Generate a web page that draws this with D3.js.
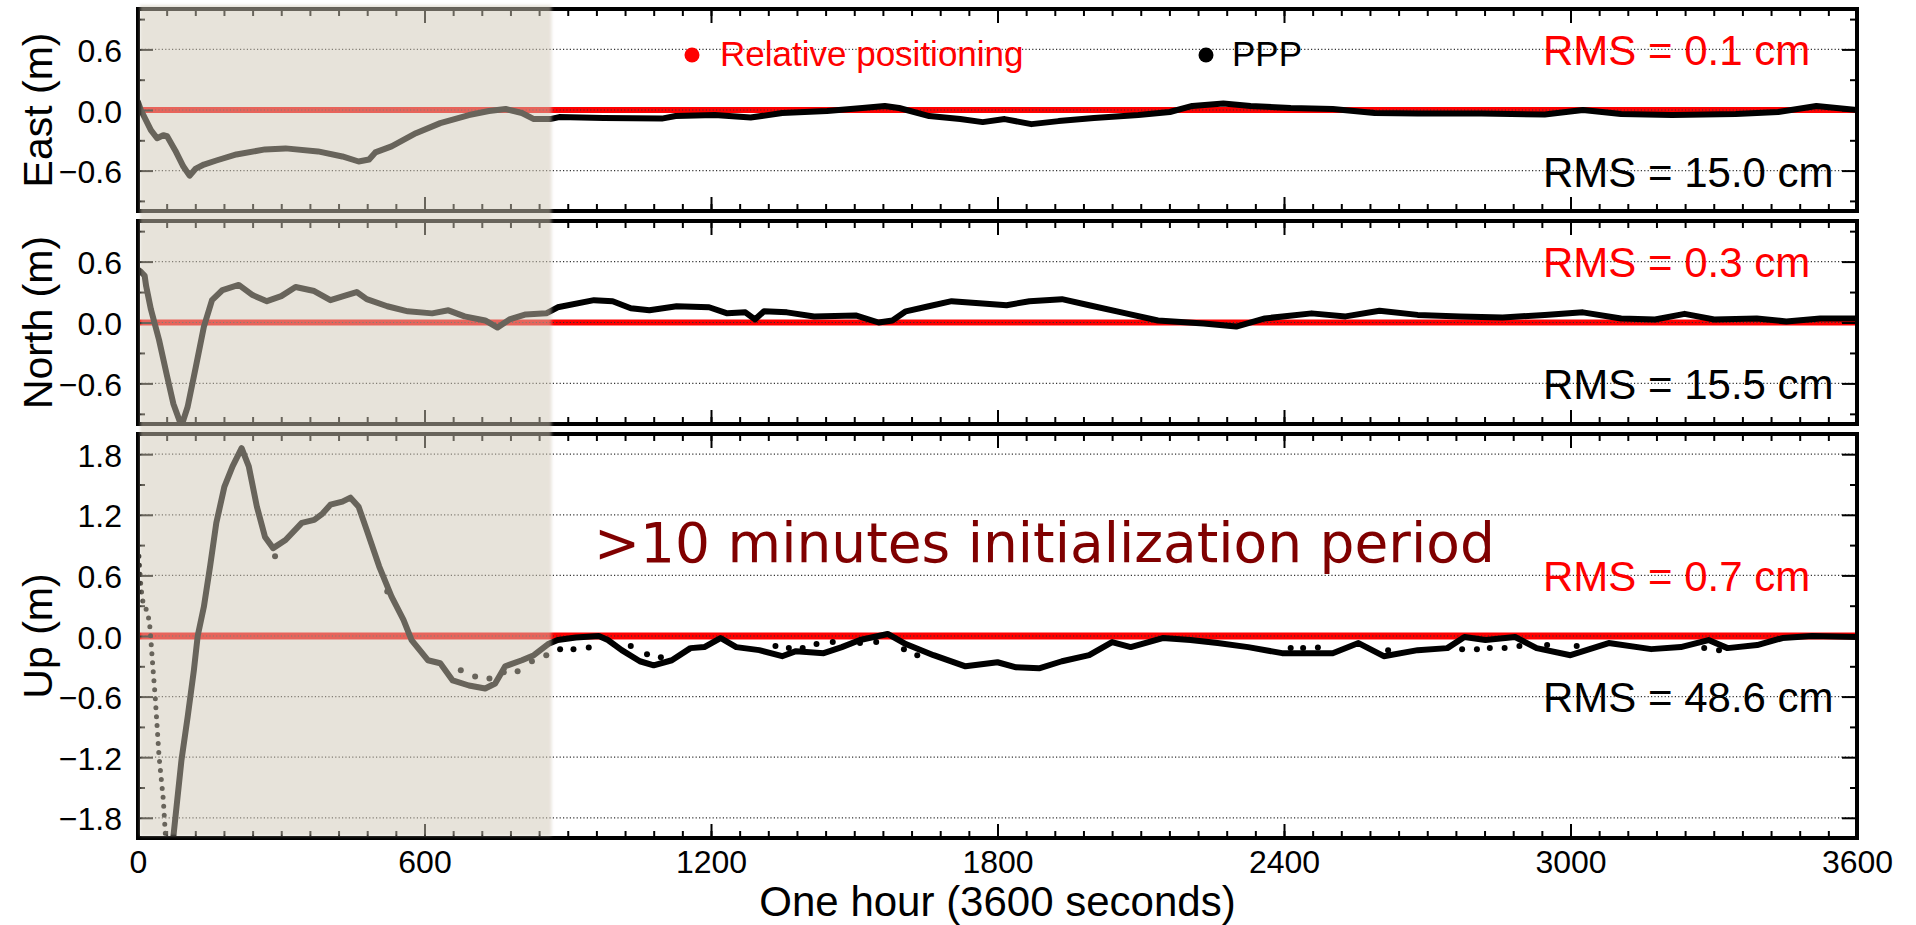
<!DOCTYPE html>
<html>
<head>
<meta charset="utf-8">
<script src="https://cdn.jsdelivr.net/npm/d3@7"></script>
<style>
  body { margin: 0; background: #fff; }
  text { font-family: "Liberation Sans", Arial, Helvetica, sans-serif; }
</style>
</head>
<body>
<script>

// ---- values: [seconds, metres] ----

var xTicks = [0, 600, 1200, 1800, 2400, 3000, 3600]
var enTicks = [-0.6, 0.0, 0.6]
var upTicks = [-1.8, -1.2, -0.6, 0.0, 0.6, 1.2, 1.8]
var initEnd = 866   // shaded initialization period ends here (s)

// PPP, East
var eastPPP = [[0, 0.08], [6, 0.0], [27, -0.20], [40, -0.28], [53, -0.25], [61, -0.26], [78, -0.40],
  [95, -0.56], [108, -0.65], [121, -0.58], [138, -0.54], [164, -0.50], [206, -0.44], [266, -0.39],
  [309, -0.38], [377, -0.41], [428, -0.46], [462, -0.51], [484, -0.49], [497, -0.42], [531, -0.36],
  [582, -0.23], [633, -0.13], [693, -0.05], [735, -0.01], [770, 0.01], [804, -0.03], [829, -0.09],
  [863, -0.09], [882, -0.07], [975, -0.08], [1097, -0.085], [1126, -0.06], [1208, -0.05], [1283, -0.075],
  [1349, -0.03], [1443, -0.01], [1517, 0.02], [1564, 0.04], [1594, 0.02], [1657, -0.06], [1722, -0.09],
  [1769, -0.12], [1815, -0.09], [1871, -0.14], [1928, -0.11], [2002, -0.08], [2095, -0.05], [2161, -0.02],
  [2208, 0.04], [2273, 0.065], [2330, 0.04], [2414, 0.02], [2502, 0.01], [2590, -0.03], [2680, -0.035],
  [2813, -0.035], [2946, -0.045], [3026, 0.0], [3106, -0.04], [3213, -0.05], [3346, -0.04], [3435, -0.02],
  [3515, 0.04], [3600, 0.0]]

// PPP, North
var northPPP = [[0, 0.52], [6, 0.50], [14, 0.46], [17, 0.36], [27, 0.13], [44, -0.17], [61, -0.53],
  [74, -0.80], [91, -1.02], [104, -0.83], [121, -0.44], [138, -0.04], [155, 0.22], [177, 0.32], [211, 0.37],
  [240, 0.27], [270, 0.21], [300, 0.26], [330, 0.35], [369, 0.31], [403, 0.22], [437, 0.27], [458, 0.30],
  [479, 0.23], [522, 0.16], [565, 0.11], [616, 0.09], [650, 0.12], [684, 0.06], [727, 0.02], [753, -0.05],
  [778, 0.03], [812, 0.08], [855, 0.09], [879, 0.15], [955, 0.22], [994, 0.21], [1032, 0.14], [1071, 0.12],
  [1128, 0.16], [1196, 0.15], [1234, 0.09], [1272, 0.10], [1292, 0.03], [1311, 0.11], [1359, 0.10],
  [1416, 0.06], [1503, 0.07], [1551, 0.0], [1580, 0.02], [1608, 0.11], [1656, 0.16], [1704, 0.21],
  [1762, 0.19], [1819, 0.17], [1867, 0.21], [1935, 0.23], [1992, 0.17], [2069, 0.09], [2136, 0.02],
  [2232, -0.01], [2300, -0.04], [2360, 0.04], [2458, 0.09], [2529, 0.06], [2600, 0.115], [2680, 0.075],
  [2769, 0.06], [2858, 0.05], [2946, 0.075], [3026, 0.10], [3106, 0.04], [3177, 0.03], [3239, 0.085],
  [3301, 0.03], [3390, 0.04], [3452, 0.01], [3523, 0.04], [3600, 0.04]]

// PPP, Up
var upPPP = [[70, -2.1], [74, -1.99], [91, -1.23], [104, -0.80], [117, -0.34], [125, 0.0], [138, 0.29],
  [151, 0.69], [164, 1.12], [181, 1.48], [198, 1.68], [217, 1.86], [232, 1.68], [249, 1.28], [266, 0.98],
  [283, 0.87], [309, 0.95], [343, 1.12], [369, 1.15], [386, 1.21], [403, 1.30], [428, 1.33], [445, 1.37],
  [462, 1.28], [479, 1.05], [505, 0.69], [531, 0.39], [556, 0.16], [573, -0.04], [607, -0.24], [633, -0.27],
  [659, -0.44], [693, -0.49], [727, -0.52], [748, -0.47], [769, -0.30], [804, -0.24], [829, -0.19],
  [859, -0.08], [879, -0.04], [917, -0.015], [965, 0.0], [984, -0.04], [1013, -0.14], [1051, -0.25],
  [1080, -0.29], [1118, -0.24], [1157, -0.12], [1186, -0.11], [1220, -0.02], [1253, -0.11], [1301, -0.14],
  [1349, -0.20], [1378, -0.15], [1436, -0.17], [1474, -0.11], [1512, -0.04], [1570, 0.02], [1608, -0.08],
  [1666, -0.19], [1733, -0.30], [1800, -0.26], [1839, -0.31], [1887, -0.32], [1935, -0.25], [1992, -0.19],
  [2040, -0.06], [2079, -0.11], [2146, -0.02], [2204, -0.04], [2261, -0.07], [2325, -0.11], [2396, -0.17],
  [2502, -0.17], [2556, -0.07], [2609, -0.20], [2680, -0.14], [2742, -0.12], [2778, -0.01], [2822, -0.04],
  [2884, -0.01], [2929, -0.12], [3000, -0.19], [3080, -0.07], [3169, -0.13], [3231, -0.11], [3289, -0.04],
  [3329, -0.12], [3391, -0.09], [3444, -0.02], [3506, 0.0], [3600, -0.01]]

// PPP, Up: early dotted drop and stray epochs
var upDrop = [[2, 0.79], [5, 0.55], [9, 0.36], [19, 0.24], [24, 0.14], [27, -0.04], [31, -0.30],
  [36, -0.60], [44, -1.19], [53, -1.62], [59, -2.1]]
var upStray = [[287, 0.79], [522, 0.44], [676, -0.34], [706, -0.40], [736, -0.42], [766, -0.36],
  [795, -0.35], [825, -0.25], [855, -0.19], [884, -0.13], [912, -0.13], [944, -0.115], [1032, -0.10],
  [1066, -0.18], [1095, -0.21], [1335, -0.10], [1363, -0.12], [1392, -0.12], [1421, -0.08], [1455, -0.06],
  [1512, -0.07], [1546, -0.06], [1604, -0.13], [1632, -0.19], [2414, -0.12], [2440, -0.12], [2471, -0.115],
  [2618, -0.14], [2773, -0.13], [2804, -0.13], [2831, -0.12], [2862, -0.12], [2893, -0.10], [2951, -0.09],
  [3013, -0.10], [3280, -0.12], [3311, -0.14]]

// Relative positioning (sits on zero)
var relT = [0, 600, 1200, 1800, 2400, 3000, 3600]
var eastRel = [0.0, 0.0, 0.0, 0.0, 0.0, 0.0, 0.0]
var northRel = [0.0, 0.0, 0.0, 0.0, 0.0, 0.0, 0.0]
var upRel = [0.0, 0.0, 0.0, 0.0, 0.0, 0.0, 0.0]

var panelLabels = ["East (m)", "North (m)", "Up (m)"]
var rmsRel = ["RMS = 0.1 cm", "RMS = 0.3 cm", "RMS = 0.7 cm"]
var rmsPPP = ["RMS = 15.0 cm", "RMS = 15.5 cm", "RMS = 48.6 cm"]


// ---- drawing ----

var svg = d3.select("body")
  .append("svg")
  .attr("width", 1916)
  .attr("height", 925)
  .style("display", "block")
  .style("background", "#fff")

var x0 = 138, x1 = 1857
var x = d3.scaleLinear().domain([0, 3600]).range([x0, x1])
var minorX = d3.range(0, 3601, 60)

var panels = [
  { top: 9, bottom: 211, ymax: 1, major: enTicks, ppp: eastPPP, rel: eastRel, relW: 6, relY: 65, pppY: 187 },
  { top: 221, bottom: 424, ymax: 1, major: enTicks, ppp: northPPP, rel: northRel, relW: 6, relY: 277, pppY: 399 },
  { top: 434, bottom: 838, ymax: 2, major: upTicks, ppp: upPPP, rel: upRel, relW: 7, relY: 591, pppY: 712 }
]

var defs = svg.append("defs")
defs.append("filter").attr("id", "soft")
  .attr("x", "-5%").attr("y", "-5%").attr("width", "110%").attr("height", "110%")
  .append("feGaussianBlur").attr("stdDeviation", 1.5)

function styleAxis(g) {
  g.select(".domain").remove()
  g.selectAll(".tick line").attr("stroke", "#000").attr("stroke-width", 2)
  g.attr("font-family", null).attr("font-size", 32)
  g.selectAll("text").attr("fill", "#000")
}

panels.forEach(function (p, i) {
  var y = d3.scaleLinear().domain([-p.ymax, p.ymax]).range([p.bottom, p.top])
  var line = d3.line().x(function (d) { return x(d[0]) }).y(function (d) { return y(d[1]) })

  defs.append("clipPath").attr("id", "clip" + i)
    .append("rect").attr("x", x0).attr("y", p.top)
    .attr("width", x1 - x0).attr("height", p.bottom - p.top)

  var g = svg.append("g")
  var plot = g.append("g").attr("clip-path", "url(#clip" + i + ")")

  // relative positioning: dense red dots along zero
  plot.append("path")
    .datum(relT.map(function (t, k) { return [t, p.rel[k]] }))
    .attr("d", line)
    .attr("fill", "none")
    .attr("stroke", "#ff0000")
    .attr("stroke-width", p.relW)

  // dotted grid at labelled ticks
  plot.selectAll(".grid").data(p.major).enter()
    .append("line")
    .attr("x1", x0).attr("x2", x1)
    .attr("y1", function (d) { return y(d) })
    .attr("y2", function (d) { return y(d) })
    .attr("stroke", "#333")
    .attr("stroke-width", 1.2)
    .attr("stroke-dasharray", "1.2,2.2")

  // PPP
  plot.append("path")
    .datum(p.ppp)
    .attr("d", line)
    .attr("fill", "none")
    .attr("stroke", "#000")
    .attr("stroke-width", 6)
    .attr("stroke-linejoin", "round")
    .attr("stroke-linecap", "round")

  if (i == 2) {
    plot.append("path")
      .datum(upDrop)
      .attr("d", line)
      .attr("fill", "none")
      .attr("stroke", "#000")
      .attr("stroke-width", 5)
      .attr("stroke-linecap", "round")
      .attr("stroke-dasharray", "0,9")
    plot.selectAll(".stray").data(upStray).enter()
      .append("circle")
      .attr("cx", function (d) { return x(d[0]) })
      .attr("cy", function (d) { return y(d[1]) })
      .attr("r", 3)
      .attr("fill", "#000")
  }

  // ticks on all four sides, pointing inward
  var minorY = d3.range(-21, 22, 6).map(function (d) { return d / 10 })
    .filter(function (d) { return Math.abs(d) < p.ymax })

  g.append("g").attr("transform", "translate(" + x0 + ",0)")
    .call(d3.axisLeft(y).tickValues(p.major).tickSize(-15).tickPadding(16).tickFormat(d3.format(".1f")))
    .call(styleAxis)
    .selectAll("text").attr("dy", "0.38em")
  g.append("g").attr("transform", "translate(" + x0 + ",0)")
    .call(d3.axisLeft(y).tickValues(minorY).tickSize(-7).tickFormat(""))
    .call(styleAxis)
  g.append("g").attr("transform", "translate(" + x1 + ",0)")
    .call(d3.axisRight(y).tickValues(p.major).tickSize(-15).tickFormat(""))
    .call(styleAxis)
  g.append("g").attr("transform", "translate(" + x1 + ",0)")
    .call(d3.axisRight(y).tickValues(minorY).tickSize(-7).tickFormat(""))
    .call(styleAxis)

  g.append("g").attr("transform", "translate(0," + p.top + ")")
    .call(d3.axisTop(x).tickValues(minorX).tickSize(-7).tickFormat(""))
    .call(styleAxis)
  g.append("g").attr("transform", "translate(0," + p.top + ")")
    .call(d3.axisTop(x).tickValues(xTicks).tickSize(-14).tickFormat(""))
    .call(styleAxis)
  g.append("g").attr("transform", "translate(0," + p.bottom + ")")
    .call(d3.axisBottom(x).tickValues(minorX).tickSize(-7).tickFormat(""))
    .call(styleAxis)
  g.append("g").attr("transform", "translate(0," + p.bottom + ")")
    .call(d3.axisBottom(x).tickValues(xTicks).tickSize(-14).tickPadding(12)
      .tickFormat(i == 2 ? d3.format("d") : ""))
    .call(styleAxis)

  // frame
  g.append("rect")
    .attr("x", x0).attr("y", p.top)
    .attr("width", x1 - x0).attr("height", p.bottom - p.top)
    .attr("fill", "none")
    .attr("stroke", "#000")
    .attr("stroke-width", 4)

  // y label
  svg.append("text")
    .attr("transform", "translate(52," + (p.top + p.bottom) / 2 + ") rotate(-90)")
    .attr("text-anchor", "middle")
    .attr("font-size", 41)
    .text(panelLabels[i])

  // RMS notes
  svg.append("text").attr("x", 1543).attr("y", p.relY)
    .attr("font-size", 42).attr("fill", "#ff0000").text(rmsRel[i])
  svg.append("text").attr("x", 1543).attr("y", p.pppY)
    .attr("font-size", 42).attr("fill", "#000").text(rmsPPP[i])
})

// translucent paper-coloured band over the initialization period
svg.append("rect")
  .attr("x", 140)
  .attr("y", 5)
  .attr("width", x(initEnd) - 140)
  .attr("height", 831)
  .attr("fill", "rgb(208,200,182)")
  .attr("fill-opacity", 0.5)
  .attr("filter", "url(#soft)")

// legend
svg.append("circle").attr("cx", 692).attr("cy", 55).attr("r", 7.5).attr("fill", "#ff0000")
svg.append("text").attr("x", 720).attr("y", 66)
  .attr("font-size", 35).attr("fill", "#ff0000").text("Relative positioning")
svg.append("circle").attr("cx", 1206).attr("cy", 55).attr("r", 7.5).attr("fill", "#000")
svg.append("text").attr("x", 1232).attr("y", 66)
  .attr("font-size", 35).attr("fill", "#000").text("PPP")

// annotation
svg.append("text")
  .attr("x", 594).attr("y", 562)
  .style("font-family", "'DejaVu Sans', Verdana, sans-serif")
  .attr("font-size", 55)
  .attr("fill", "#800000")
  .text(">10 minutes initialization period")

// x title
svg.append("text")
  .attr("x", (x0 + x1) / 2).attr("y", 916)
  .attr("text-anchor", "middle")
  .attr("font-size", 42)
  .text("One hour (3600 seconds)")

</script>
</body>
</html>
